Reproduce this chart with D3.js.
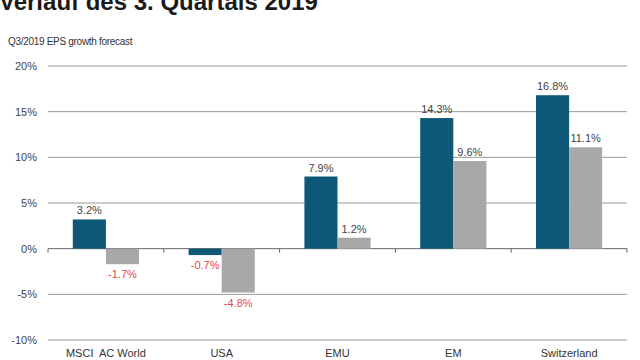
<!DOCTYPE html>
<html lang="de">
<head>
<meta charset="utf-8">
<title>EPS growth forecast</title>
<script src="https://cdn.jsdelivr.net/npm/d3@7"></script>
<style>
  body { margin: 0; background: #fff; }
  svg { display: block; font-family: "Liberation Sans", Arial, sans-serif; }
</style>
</head>
<body>
<div id="chart"></div>
<script>
// chart data
var categories = ["MSCI  AC World", "USA", "EMU", "EM", "Switzerland"];
var seriesA = [3.2, -0.7, 7.9, 14.3, 16.8];
var seriesB = [-1.7, -4.8, 1.2, 9.6, 11.1];
var yTicks = [-10, -5, 0, 5, 10, 15, 20];

var w = 640, h = 360;
var svg = d3.select("#chart").append("svg")
  .attr("width", w)
  .attr("height", h);

// titles
svg.append("text")
  .attr("x", -1).attr("y", 10)
  .attr("font-size", 24).attr("font-weight", "bold").attr("fill", "#1a1a1a")
  .text("Verlauf des 3. Quartals 2019");
svg.append("text")
  .attr("x", 8).attr("y", 45)
  .attr("font-size", 10).attr("fill", "#333")
  .attr("letter-spacing", -0.3)
  .text("Q3/2019 EPS growth forecast");

var x0 = d3.scaleBand().domain(categories).range([48, 627]).paddingInner(0).paddingOuter(0);
var y = d3.scaleLinear().domain([-10, 20]).range([340, 66]);

// grid
svg.append("g").selectAll("line").data(yTicks).join("line")
  .attr("x1", 48).attr("x2", 627)
  .attr("y1", d => y(d)).attr("y2", d => y(d))
  .attr("stroke", d => d === 0 ? "#666" : "#9a9a9a")
  .attr("stroke-width", 1);

svg.append("g").selectAll("text").data(yTicks).join("text")
  .attr("x", 37).attr("y", d => y(d) + 4)
  .attr("text-anchor", "end")
  .attr("font-size", 11).attr("fill", "#444")
  .text(d => d + "%");

// category ticks on zero line
svg.append("g").selectAll("line").data(categories.slice(1).concat(["end"])).join("line")
  .attr("x1", (d, i) => 48 + x0.step() * (i + 1))
  .attr("x2", (d, i) => 48 + x0.step() * (i + 1))
  .attr("y1", y(0)).attr("y2", y(0) + 4)
  .attr("stroke", "#666");
svg.append("line")
  .attr("x1", 48).attr("x2", 48).attr("y1", y(0)).attr("y2", y(0) + 4)
  .attr("stroke", "#666");

var x1 = d3.scaleBand().domain([0, 1]).range([0, x0.bandwidth()]).paddingOuter(0.75).paddingInner(0);
var colors = ["#0d5877", "#a8a8a8"];

var groups = svg.append("g").selectAll("g").data(categories).join("g")
  .attr("transform", d => "translate(" + x0(d) + ",0)");

groups.each(function(c, i) {
  var g = d3.select(this);
  [seriesA[i], seriesB[i]].forEach(function(v, j) {
    g.append("rect")
      .attr("x", x1(j)).attr("width", x1.bandwidth())
      .attr("y", y(Math.max(0, v)))
      .attr("height", Math.abs(y(v) - y(0)))
      .attr("fill", colors[j]);
    g.append("text")
      .attr("x", x1(j) + x1.bandwidth() / 2)
      .attr("y", v >= 0 ? y(v) - 5 : y(v) + 14)
      .attr("text-anchor", "middle")
      .attr("font-size", 11)
      .attr("fill", v >= 0 ? "#444" : "#e8474c")
      .text(v.toFixed(1) + "%");
  });
});

// category labels
svg.append("g").selectAll("text").data(categories).join("text")
  .attr("x", d => x0(d) + x0.bandwidth() / 2)
  .attr("y", 357)
  .attr("text-anchor", "middle")
  .attr("font-size", 11).attr("fill", "#333")
  .attr("xml:space", "preserve")
  .style("white-space", "pre")
  .text(d => d);
</script>
</body>
</html>
